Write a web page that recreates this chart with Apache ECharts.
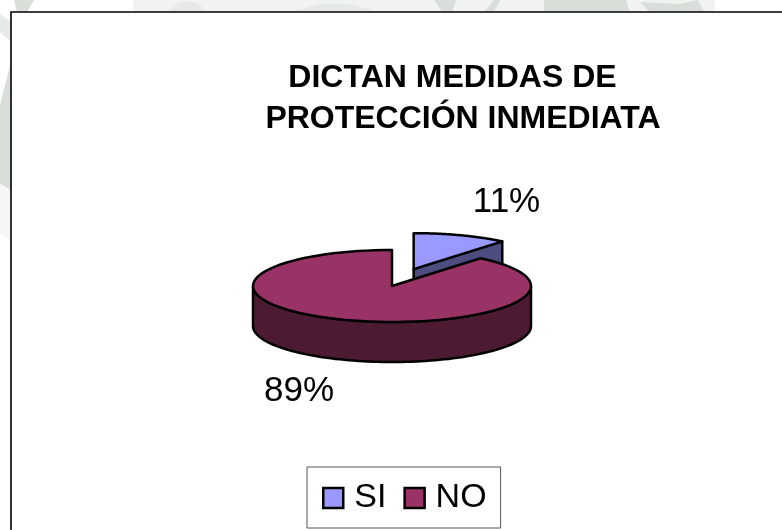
<!DOCTYPE html>
<html><head><meta charset="utf-8">
<style>html,body{margin:0;padding:0;background:#fff}#c{width:782px;height:530px}</style>
<script src="https://cdn.jsdelivr.net/npm/echarts@6/dist/echarts.min.js"></script>
</head><body><div id="c"></div>
<script>
const categories = ['SI', 'NO'];
const values = [11, 89];
const topColors = ['#9999ff', '#993366'];
const sideColors = ['#4d4d80', '#4d1a33'];
const titleLines = ['DICTAN MEDIDAS DE', 'PROTECCIÓN INMEDIATA'];

const FONT = '"Liberation Sans", Arial, sans-serif';
const total = values.reduce((a, b) => a + b, 0);
const CX = 392, CY = 286, RX = 139, RY = 36, DEPTH = 40, EXPLODE = 0.46;
const labelPos = [[506.5, 202], [299, 391]];

function pt(cx, cy, a) { return [cx + RX * Math.sin(a), cy - RY * Math.cos(a)]; }
function arc(cx, cy, a0, a1) {
  const pts = [], n = 90;
  for (let i = 0; i <= n; i++) pts.push(pt(cx, cy, a0 + (a1 - a0) * i / n));
  return pts;
}
function poly(points, fill) {
  return { type: 'polygon', shape: { points },
    style: { fill, stroke: '#000', lineWidth: 2.5, lineJoin: 'round' } };
}
function renderSlice(idx) {
  return function (params, api) {
    const val = api.value(0);
    let start = 0;
    for (let i = 0; i < idx; i++) start += values[i];
    const a0 = start / total * Math.PI * 2;
    const a1 = (start + val) / total * Math.PI * 2;
    const mid = (a0 + a1) / 2;
    const ex = idx === 0 ? EXPLODE : 0;
    const cx = CX + RX * Math.sin(mid) * ex;
    const cy = CY - RY * 1.05 * Math.cos(mid) * ex - (idx === 0 ? 0.5 : 0);
    const top = [[cx, cy]].concat(arc(cx, cy, a0, a1));
    const children = [];
    const down = p => [p[0], p[1] + DEPTH];
    // cut faces are visible only when they turn toward the viewer
    const e = pt(cx, cy, a1);
    if (a1 < Math.PI) children.push(poly([[cx, cy], e, down(e), [cx, cy + DEPTH]], sideColors[idx]));
    const s = pt(cx, cy, a0);
    if (a0 > Math.PI) children.push(poly([[cx, cy], s, down(s), [cx, cy + DEPTH]], sideColors[idx]));
    // outer wall: only the front half of the rim faces the viewer
    const w0 = Math.max(a0, Math.PI / 2), w1 = Math.min(a1, Math.PI * 1.5);
    if (w1 > w0) {
      const rim = arc(cx, cy, w0, w1);
      children.push(poly(rim.concat(rim.slice().reverse().map(down)), sideColors[idx]));
    }
    children.push(poly(top, topColors[idx]));
    children.push({ type: 'text', style: {
      text: Math.round(val / total * 100) + '%', x: labelPos[idx][0], y: labelPos[idx][1],
      fill: '#000', font: '35px ' + FONT, textAlign: 'center', textVerticalAlign: 'middle' } });
    return { type: 'group', children };
  };
}
const wm = '#d8dfd8', wm2 = '#e6eae6';
const chart = echarts.init(document.getElementById('c'), null, { renderer: 'canvas' });
chart.setOption({
  animation: false,
  backgroundColor: '#fff',
  graphic: [
    { type: 'polygon', z: -5, shape: { points: [[133,0],[715,0],[715,12],[133,12]] }, style: { fill: '#f1f3f1' } },
    { type: 'polygon', z: -4, shape: { points: [[14,0],[34,0],[27,12],[17,12]] }, style: { fill: wm } },
    { type: 'polygon', z: -4, shape: { points: [[166,12],[180,2],[196,2],[208,12]] }, style: { fill: wm2 } },
    { type: 'polygon', z: -4, shape: { points: [[290,12],[320,4],[350,4],[378,12]] }, style: { fill: wm2 } },
    { type: 'polygon', z: -4, shape: { points: [[434,0],[456,0],[452,12],[442,12]] }, style: { fill: wm } },
    { type: 'polygon', z: -4, shape: { points: [[484,12],[494,0],[500,0],[494,12]] }, style: { fill: wm } },
    { type: 'polygon', z: -4, shape: { points: [[544,0],[626,0],[630,12],[544,12]] }, style: { fill: wm } },
    { type: 'polygon', z: -4, shape: { points: [[640,2],[650,12],[704,12],[698,0],[680,4]] }, style: { fill: wm } },
    { type: 'polygon', z: -4, shape: { points: [[0,14],[11,22],[11,42],[0,32]] }, style: { fill: wm2 } },
    { type: 'polygon', z: -4, shape: { points: [[0,105],[11,62],[11,190],[0,184]] }, style: { fill: wm } },
    { type: 'polygon', z: -4, shape: { points: [[0,184],[11,190],[11,240],[0,235]] }, style: { fill: '#f5f6f5' } },
    { type: 'polygon', z: -3, shape: { points: [[11,12],[800,12],[800,550],[11,550]] },
      style: { fill: '#fff', stroke: '#000', lineWidth: 1.6 } },
    { type: 'text', z: 10, style: { text: titleLines[0], x: 452.5, y: 78, fill: '#000',
      font: 'bold 32px ' + FONT, textAlign: 'center', textVerticalAlign: 'middle' } },
    { type: 'text', z: 10, style: { text: titleLines[1], x: 463, y: 119, fill: '#000',
      font: 'bold 32px ' + FONT, textAlign: 'center', textVerticalAlign: 'middle' } }
  ],
  legend: {
    left: 307, top: 467, orient: 'horizontal', icon: 'rect',
    data: categories.map((name, i) => ({ name, itemStyle: { color: topColors[i], borderColor: '#000', borderWidth: 2.5 } })),
    itemWidth: 20, itemHeight: 20, itemGap: 17,
    padding: [14, 14, 13, 15],
    borderColor: '#555', borderWidth: 1, backgroundColor: '#fff',
    textStyle: { fontFamily: FONT, fontSize: 34, color: '#000', padding: [2, 0, 0, 6] }
  },
  series: categories.map((name, i) => ({
    type: 'custom', name, coordinateSystem: 'none', z: 2 + i,
    itemStyle: { color: topColors[i] },
    renderItem: renderSlice(i),
    data: [[values[i]]]
  }))
});
</script></body></html>
